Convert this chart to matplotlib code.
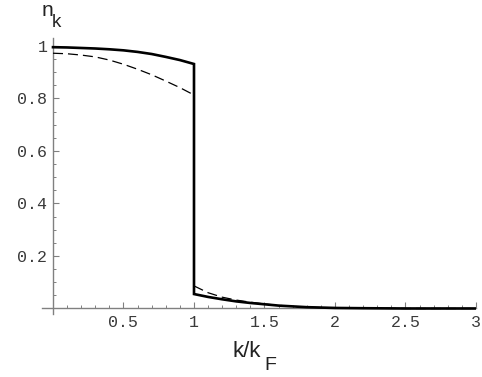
import matplotlib
matplotlib.use("Agg")
import matplotlib.pyplot as plt
from matplotlib.ticker import FixedLocator, MultipleLocator

# inside the Fermi sphere (k/kF <= 1)
k_in = [0.0, 0.1, 0.2, 0.3, 0.4, 0.5, 0.6, 0.7, 0.8, 0.9, 1.0]
n_solid_in = [0.995, 0.994, 0.992, 0.990, 0.987, 0.983, 0.977, 0.969, 0.958, 0.946, 0.931]
n_dashed_in = [0.972, 0.970, 0.965, 0.958, 0.946, 0.930, 0.911, 0.890, 0.866, 0.841, 0.813]

# outside the Fermi sphere (k/kF >= 1)
k_out = [1.0, 1.1, 1.2, 1.3, 1.4, 1.5, 1.6, 1.7, 1.8, 2.0, 2.2, 2.5, 3.0]
n_solid_out = [0.055, 0.044, 0.035, 0.027, 0.021, 0.016, 0.011, 0.008, 0.005, 0.002, 0.001, 0.0, 0.0]
n_dashed_out = [0.086, 0.060, 0.043, 0.032, 0.024, 0.017, 0.012, 0.008, 0.005, 0.002, 0.001, 0.0, 0.0]

x_major = [0.5, 1.0, 1.5, 2.0, 2.5, 3.0]
x_labels = ["0.5", "1", "1.5", "2", "2.5", "3"]
y_major = [0.2, 0.4, 0.6, 0.8, 1.0]
y_labels = ["0.2", "0.4", "0.6", "0.8", "1"]

W, H = 482, 377
fig = plt.figure(figsize=(W / 100, H / 100), dpi=100)
ax = fig.add_axes([42 / W, 63 / H, 434 / W, 276 / H])
ax.set_xlim(-0.078, 3.0)
ax.set_ylim(-0.021, 1.03)

axis_col = "#808080"
for s in ["top", "right"]:
    ax.spines[s].set_visible(False)
ax.spines["left"].set_position(("data", 0))
ax.spines["bottom"].set_position(("data", 0))
for s in ["left", "bottom"]:
    ax.spines[s].set_color(axis_col)
    ax.spines[s].set_linewidth(1.0)

ax.xaxis.set_major_locator(FixedLocator(x_major))
ax.xaxis.set_minor_locator(MultipleLocator(0.1))
ax.yaxis.set_major_locator(FixedLocator(y_major))
ax.yaxis.set_minor_locator(MultipleLocator(0.05))
ax.set_xticklabels(x_labels)
ax.set_yticklabels(y_labels)

mono = ["Liberation Mono", "DejaVu Sans Mono"]
ax.tick_params(axis="both", which="major", direction="in", length=4, width=0.8,
               color=axis_col, labelsize=12, labelcolor="#3a3a3a")
ax.tick_params(axis="both", which="minor", direction="in", length=2.2, width=0.7,
               color=axis_col)
ax.tick_params(axis="x", which="major", pad=4.5)
ax.tick_params(axis="y", which="major", pad=4)
for lab in ax.get_xticklabels() + ax.get_yticklabels():
    lab.set_family(mono)

# curves
ax.plot(k_in, n_dashed_in, color="black", lw=0.9, linestyle=(0, (8, 4)), zorder=3)
ax.plot(k_out, n_dashed_out, color="black", lw=0.9, linestyle=(0, (8, 4)), zorder=3)
ax.plot(k_in + k_out, n_solid_in + n_solid_out, color="black", lw=1.9,
        solid_joinstyle="miter", zorder=4)

# axis labels (manual subscripts, Mathematica-like)
sans = ["Liberation Sans", "DejaVu Sans"]
tc = "#222222"
fig.text(41.5 / W, 1 - 15.5 / H, "n", fontsize=15, family=sans, color=tc,
         ha="left", va="baseline")
fig.text(52.0 / W, 1 - 27 / H, "k", fontsize=13.5, family=sans, color=tc,
         ha="left", va="baseline")
fig.text(232 / W, 1 - 357 / H, "k/k", fontsize=16, family=sans, color=tc,
         ha="left", va="baseline")
fig.text(264.5 / W, 1 - 370 / H, "F", fontsize=14, family=sans, color=tc,
         ha="left", va="baseline")

fig.savefig("out.png", dpi=100)
